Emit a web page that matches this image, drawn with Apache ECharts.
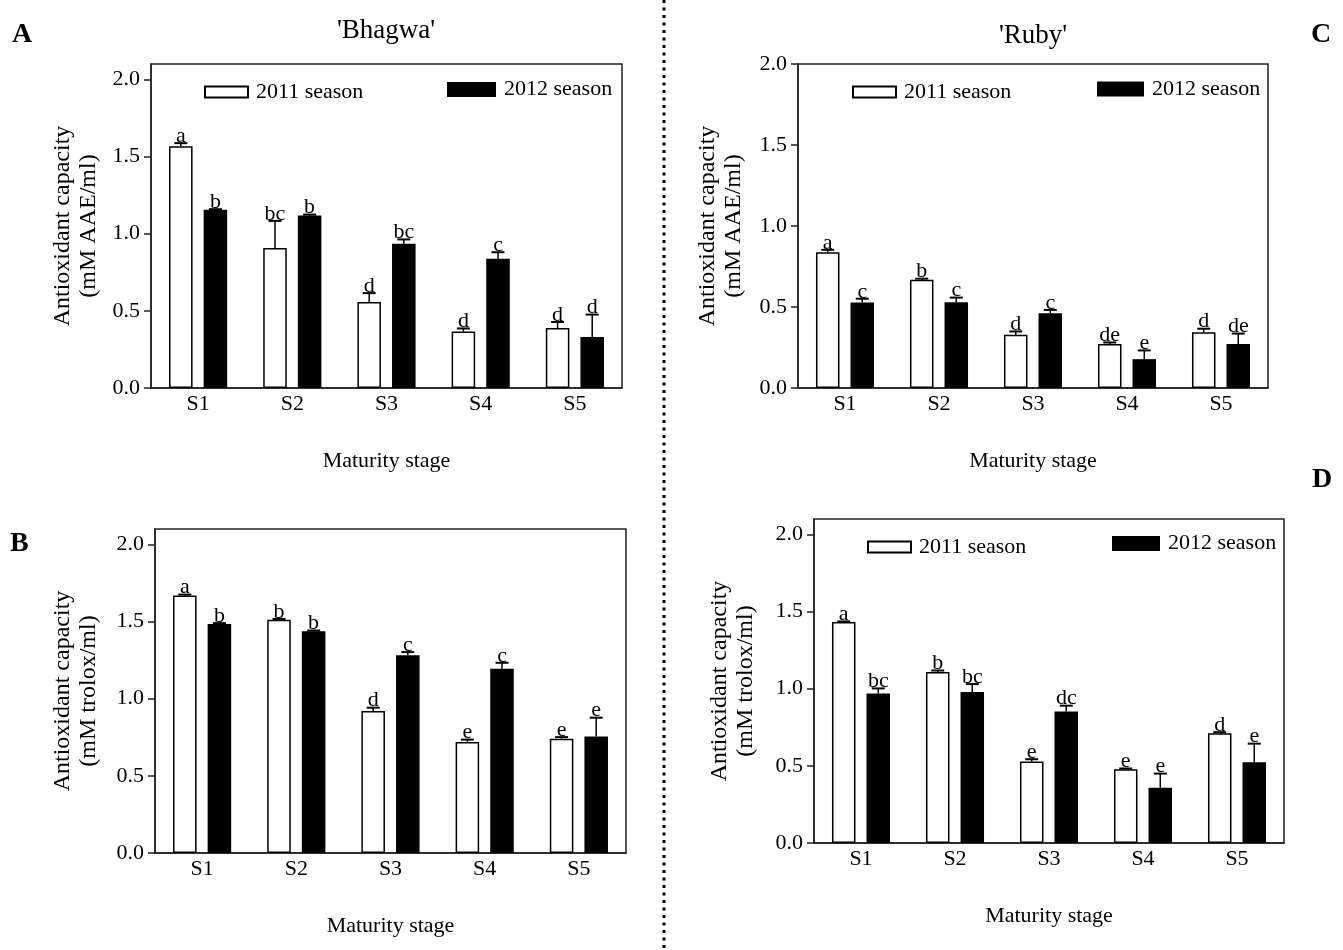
<!DOCTYPE html>
<html>
<head>
<meta charset="utf-8">
<script src="https://cdn.jsdelivr.net/npm/echarts@6/dist/echarts.min.js"></script>
<style>
  html, body { margin: 0; padding: 0; background: #fff; }
  #main { width: 1343px; height: 950px; }
</style>
</head>
<body>
<div id="main"></div>
<script>
// categories and tick labels
var stages = ['S1', 'S2', 'S3', 'S4', 'S5']
var yTicks = [0, 0.5, 1.0, 1.5, 2.0]

// A - 'Bhagwa', mM AAE/ml
var bhagwaAae2011 = [1.567, 0.907, 0.557, 0.367, 0.389]
var bhagwaAae2011Err = [0.020, 0.176, 0.058, 0.019, 0.039]
var bhagwaAae2012 = [1.155, 1.118, 0.935, 0.837, 0.331]
var bhagwaAae2012Err = [0.004, 0.006, 0.028, 0.043, 0.145]
var bhagwaAae2011Letters = ['a', 'bc', 'd', 'd', 'd']
var bhagwaAae2012Letters = ['b', 'b', 'bc', 'c', 'd']

// B - 'Bhagwa', mM trolox/ml
var bhagwaTrolox2011 = [1.669, 1.511, 0.920, 0.720, 0.741]
var bhagwaTrolox2011Err = [0.006, 0.006, 0.022, 0.015, 0.010]
var bhagwaTrolox2012 = [1.485, 1.438, 1.282, 1.194, 0.755]
var bhagwaTrolox2012Err = [0.005, 0.004, 0.020, 0.039, 0.122]
var bhagwaTrolox2011Letters = ['a', 'b', 'd', 'e', 'e']
var bhagwaTrolox2012Letters = ['b', 'b', 'c', 'c', 'e']

// C - 'Ruby', mM AAE/ml
var rubyAae2011 = [0.838, 0.668, 0.328, 0.271, 0.344]
var rubyAae2011Err = [0.015, 0.007, 0.021, 0.010, 0.022]
var rubyAae2012 = [0.528, 0.529, 0.462, 0.178, 0.271]
var rubyAae2012Err = [0.023, 0.029, 0.020, 0.054, 0.065]
var rubyAae2011Letters = ['a', 'b', 'd', 'de', 'd']
var rubyAae2012Letters = ['c', 'c', 'c', 'e', 'de']

// D - 'Ruby', mM trolox/ml
var rubyTrolox2011 = [1.432, 1.109, 0.528, 0.478, 0.711]
var rubyTrolox2011Err = [0.004, 0.009, 0.015, 0.005, 0.007]
var rubyTrolox2012 = [0.969, 0.978, 0.853, 0.358, 0.524]
var rubyTrolox2012Err = [0.033, 0.052, 0.037, 0.092, 0.120]
var rubyTrolox2011Letters = ['a', 'b', 'e', 'e', 'd']
var rubyTrolox2012Letters = ['bc', 'bc', 'dc', 'e', 'e']

var FONT = '"Liberation Serif", "Times New Roman", serif'

var panels = [
    { grid: { left: 151, top: 64, width: 471, height: 324 }, max: 2.1, unit: '(mM AAE/ml)', gap: 49,
      v11: bhagwaAae2011, e11: bhagwaAae2011Err, l11: bhagwaAae2011Letters,
      v12: bhagwaAae2012, e12: bhagwaAae2012Err, l12: bhagwaAae2012Letters },
    { grid: { left: 155, top: 529, width: 471, height: 324 }, max: 2.1, unit: '(mM trolox/ml)', gap: 53,
      v11: bhagwaTrolox2011, e11: bhagwaTrolox2011Err, l11: bhagwaTrolox2011Letters,
      v12: bhagwaTrolox2012, e12: bhagwaTrolox2012Err, l12: bhagwaTrolox2012Letters },
    { grid: { left: 798, top: 64, width: 470, height: 324 }, max: 2.0, unit: '(mM AAE/ml)', gap: 51,
      v11: rubyAae2011, e11: rubyAae2011Err, l11: rubyAae2011Letters,
      v12: rubyAae2012, e12: rubyAae2012Err, l12: rubyAae2012Letters },
    { grid: { left: 814, top: 519, width: 470, height: 324 }, max: 2.1, unit: '(mM trolox/ml)', gap: 55,
      v11: rubyTrolox2011, e11: rubyTrolox2011Err, l11: rubyTrolox2011Letters,
      v12: rubyTrolox2012, e12: rubyTrolox2012Err, l12: rubyTrolox2012Letters }
]

// error bar + letter, drawn through the axes
function errorRenderer(letters, side) {
    return function (params, api) {
        var i = api.value(0), v = api.value(1), e = api.value(2)
        var band = api.size([1, 0])[0]
        var base = api.coord([i, v])
        var top = api.coord([i, v + e])
        var x = base[0] + side * band * 0.18375
        var cap = 6.5
        return {
            type: 'group',
            children: [
                { type: 'line', shape: { x1: x, y1: base[1], x2: x, y2: top[1] }, style: { stroke: '#000', lineWidth: 1.5 } },
                { type: 'line', shape: { x1: x - cap, y1: top[1], x2: x + cap, y2: top[1] }, style: { stroke: '#000', lineWidth: 2 } },
                { type: 'text', x: x, y: top[1] + 4, style: { text: letters[params.dataIndex], align: 'center', verticalAlign: 'bottom', font: '22px ' + FONT, fill: '#000' } }
            ]
        }
    }
}

var grids = [], xAxes = [], yAxes = [], series = []
panels.forEach(function (p, k) {
    grids.push(Object.assign({ show: true, borderColor: '#222', borderWidth: 1.5, backgroundColor: '#fff' }, p.grid))
    xAxes.push({
        type: 'category', gridIndex: k, data: stages,
        axisLine: { lineStyle: { color: '#222', width: 1.5 } },
        axisTick: { show: false },
        axisLabel: { color: '#000', fontFamily: FONT, fontSize: 22, margin: 5 },
        name: 'Maturity stage', nameLocation: 'middle', nameGap: 62,
        nameTextStyle: { color: '#000', fontFamily: FONT, fontSize: 22 }
    })
    yAxes.push({
        type: 'value', gridIndex: k, min: 0, max: p.max, interval: 0.5,
        splitLine: { show: false },
        axisLine: { show: true, lineStyle: { color: '#222', width: 1.5 } },
        axisTick: { show: true, length: 7, customValues: yTicks, lineStyle: { color: '#222', width: 1.5 } },
        axisLabel: { customValues: yTicks, color: '#000', fontFamily: FONT, fontSize: 22, margin: 11,
            formatter: function (v) { return v.toFixed(1) } },
        name: 'Antioxidant capacity\n' + p.unit, nameLocation: 'middle', nameGap: p.gap,
        nameTextStyle: { color: '#000', fontFamily: FONT, fontSize: 24, lineHeight: 26 }
    })
    series.push({
        name: '2011 season', type: 'bar', xAxisIndex: k, yAxisIndex: k,
        barWidth: '25%', barGap: '47%', data: p.v11,
        itemStyle: { color: '#fff', borderColor: '#000', borderWidth: 1.5 }
    })
    series.push({
        name: '2012 season', type: 'bar', xAxisIndex: k, yAxisIndex: k,
        barWidth: '25%', barGap: '47%', data: p.v12,
        itemStyle: { color: '#000', borderColor: '#000', borderWidth: 0 }
    })
    series.push({
        type: 'custom', xAxisIndex: k, yAxisIndex: k, z: 5, silent: true,
        renderItem: errorRenderer(p.l11, -1), encode: { x: 0, y: 1 },
        data: p.v11.map(function (v, i) { return [i, v, p.e11[i]] })
    })
    series.push({
        type: 'custom', xAxisIndex: k, yAxisIndex: k, z: 5, silent: true,
        renderItem: errorRenderer(p.l12, 1), encode: { x: 0, y: 1 },
        data: p.v12.map(function (v, i) { return [i, v, p.e12[i]] })
    })
})

function legendAt(name, left, top, w, h) {
    return {
        data: [name], left: left, top: top, padding: 0, itemWidth: w, itemHeight: h, icon: 'rect',
        selectedMode: false,
        textStyle: { color: '#000', fontFamily: FONT, fontSize: 22, padding: [0, 0, 0, 3] }
    }
}

var titleStyle = { color: '#000', fontFamily: FONT, fontSize: 27, fontWeight: 'normal' }
var letterStyle = { color: '#000', fontFamily: FONT, fontSize: 28, fontWeight: 'bold' }

var chart = echarts.init(document.getElementById('main'))
chart.setOption({
    animation: false,
    backgroundColor: '#fff',
    title: [
        { text: "'Bhagwa'", left: 386, top: 17, textAlign: 'center', padding: 0, textStyle: titleStyle },
        { text: "'Ruby'", left: 1033, top: 22, textAlign: 'center', padding: 0, textStyle: titleStyle },
        { text: 'A', left: 12, top: 21, padding: 0, textStyle: letterStyle },
        { text: 'B', left: 10, top: 530, padding: 0, textStyle: letterStyle },
        { text: 'C', left: 1311, top: 21, padding: 0, textStyle: letterStyle },
        { text: 'D', left: 1312, top: 466, padding: 0, textStyle: letterStyle }
    ],
    legend: [
        legendAt('2011 season', 204, 81, 43, 11),
        legendAt('2012 season', 447, 78.5, 49, 15),
        legendAt('2011 season', 852, 81, 43, 11),
        legendAt('2012 season', 1097, 78, 47, 15),
        legendAt('2011 season', 867, 536, 43, 11),
        legendAt('2012 season', 1112, 532.5, 48, 15)
    ],
    grid: grids,
    xAxis: xAxes,
    yAxis: yAxes,
    series: series,
    graphic: [{
        type: 'line', silent: true,
        shape: { x1: 664, y1: 0, x2: 664, y2: 950 },
        style: { stroke: '#000', lineWidth: 3, lineDash: [3, 4.5] }
    }]
})
</script>
</body>
</html>
